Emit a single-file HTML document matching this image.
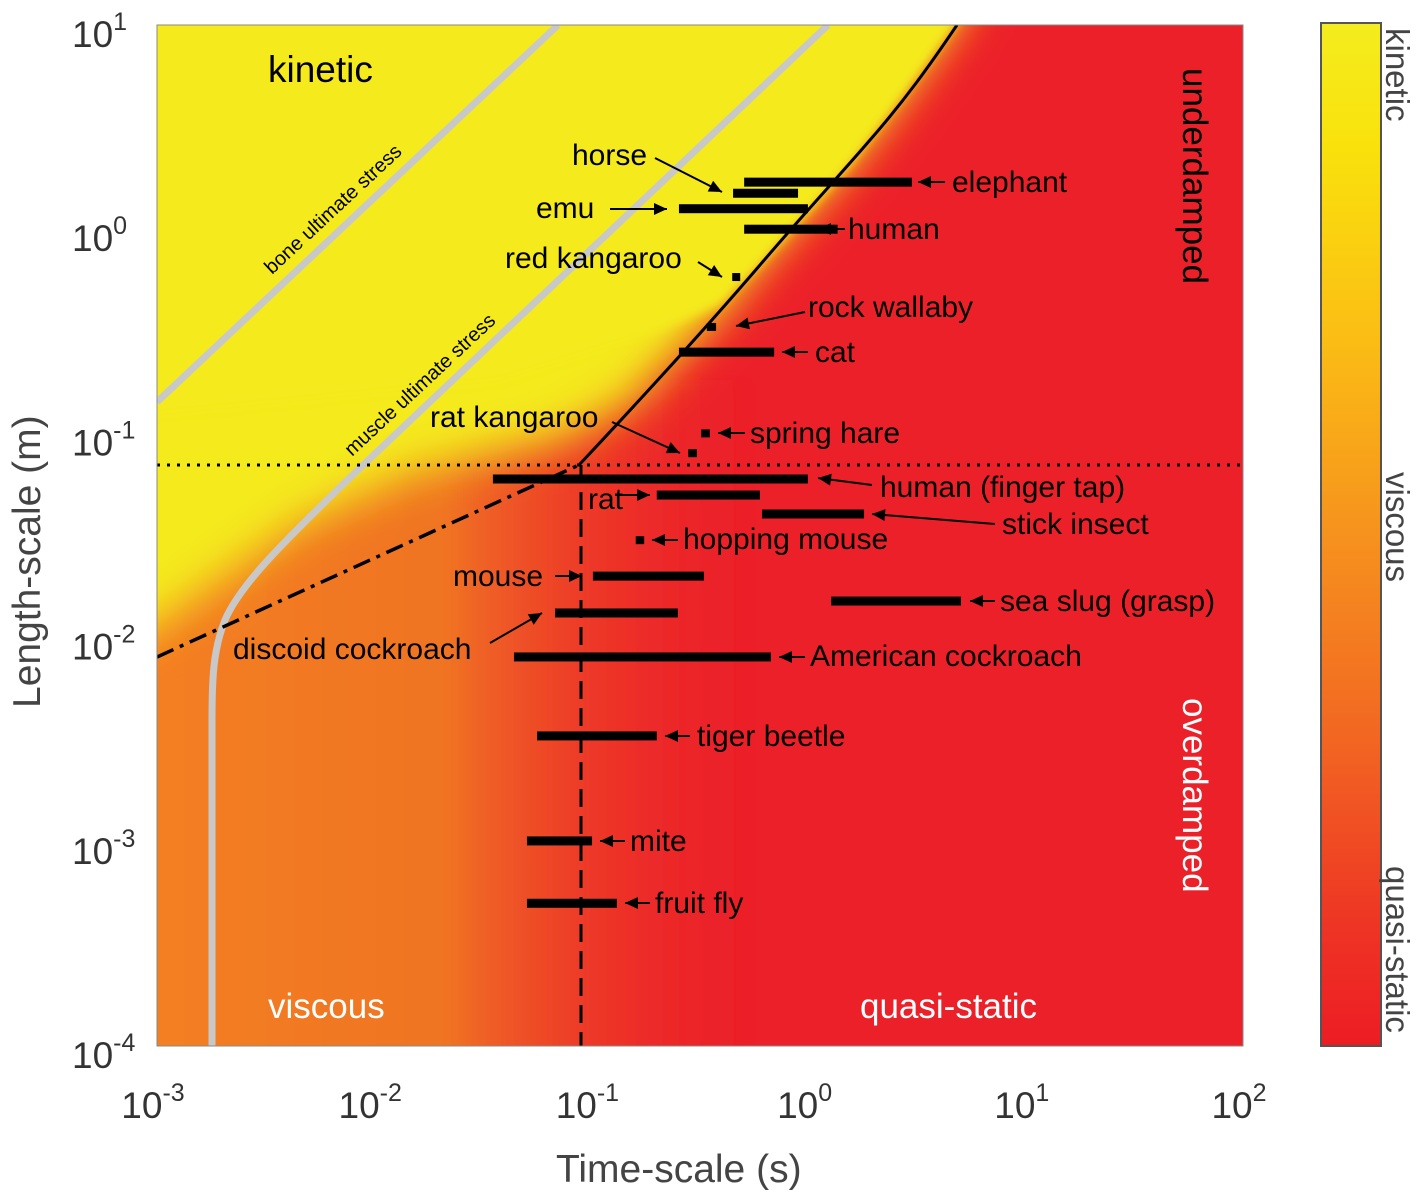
<!DOCTYPE html>
<html><head><meta charset="utf-8"><style>
html,body{margin:0;padding:0;background:#fff;}
svg{display:block;font-family:"Liberation Sans",sans-serif;}
</style></head><body>
<svg id="chart" width="1421" height="1194" viewBox="0 0 1421 1194" xmlns="http://www.w3.org/2000/svg">
<defs>
<clipPath id="plotclip"><rect x="157" y="25" width="1086" height="1021"/></clipPath>
<filter id="blur" x="-20%" y="-20%" width="140%" height="140%"><feGaussianBlur stdDeviation="22"/></filter>
<filter id="blur2" x="-20%" y="-20%" width="140%" height="140%"><feGaussianBlur stdDeviation="5"/></filter>
<linearGradient id="orangeGrad" x1="0" x2="1" y1="0" y2="0">
<stop offset="0" stop-color="#f58220"/><stop offset="0.55" stop-color="#f07424"/><stop offset="1" stop-color="#ec2228" stop-opacity="0"/>
</linearGradient>
<linearGradient id="cbGrad" x1="0" x2="0" y1="0" y2="1">
<stop offset="0" stop-color="#f4ec1e"/><stop offset="0.12" stop-color="#f9e20c"/><stop offset="0.3" stop-color="#fbbf14"/><stop offset="0.5" stop-color="#f6921e"/><stop offset="0.7" stop-color="#f26622"/><stop offset="0.88" stop-color="#ee3524"/><stop offset="1" stop-color="#ed1c24"/>
</linearGradient>
</defs>
<g id="plot" clip-path="url(#plotclip)">
<rect x="157" y="25" width="1086" height="1021" fill="#ec2029"/>
<rect x="60" y="380" width="700" height="700" fill="url(#orangeGrad)" filter="url(#blur2)"/>
<polygon fill="#f4ea1a" filter="url(#blur)" points="100,-40 990,-40 955,25 900,100 850,165 810,210 760,265 720,315 680,355 630,405 560,440 420,470 300,525 157,625 100,660"/>
<polygon fill="#f4ea1a" filter="url(#blur2)" points="100,-40 990,-40 955,25 900,100 850,165 810,210 760,265 720,305 660,330 500,380 100,420"/>
</g>
<g id="lines" clip-path="url(#plotclip)">
<line x1="157" y1="402" x2="558" y2="25" stroke="#c8c8c8" stroke-width="7"/>
<path d="M828,25 L360,468 C280,545 240,585 225,620 C213,650 212,680 212,720 L212,1046" fill="none" stroke="#c8c8c8" stroke-width="7"/>
<text x="0" y="0" transform="translate(272,275) rotate(-43)" font-size="20" fill="#000">bone ultimate stress</text>
<text x="0" y="0" transform="translate(352,457) rotate(-43)" font-size="20" fill="#000">muscle ultimate stress</text>
<path d="M579,465 C640,400 700,335 760,265 C800,218 840,175 870,140 C905,100 930,65 957,25" fill="none" stroke="#000" stroke-width="3"/>
<line x1="157" y1="657" x2="579" y2="465" stroke="#000" stroke-width="3.5" stroke-dasharray="18,7,4,7"/>
<line x1="157" y1="465" x2="1243" y2="465" stroke="#000" stroke-width="3" stroke-dasharray="3,7"/>
<line x1="581" y1="465" x2="581" y2="1046" stroke="#000" stroke-width="3" stroke-dasharray="18,9"/>
</g>
<rect x="157" y="25" width="1086" height="1021" fill="none" stroke="#888" stroke-width="1"/>
<g id="bars"></g>
<g id="labels" font-size="30" fill="#000"></g>
<g id="regions">
<text x="268" y="82" font-size="37">kinetic</text>
<text x="268" y="1018" font-size="35" fill="#fff">viscous</text>
<text x="860" y="1018" font-size="35" fill="#fff">quasi-static</text>
<text transform="translate(1183,68) rotate(90)" font-size="35" fill="#000">underdamped</text>
<text transform="translate(1183,698) rotate(90)" font-size="35" fill="#fff">overdamped</text>
</g>
<g id="axes" fill="#333"></g>
<text transform="translate(40,708) rotate(-90)" font-size="39" fill="#444">Length-scale (m)</text>
<text x="556" y="1182" font-size="39" fill="#444">Time-scale (s)</text>
<g>
<rect x="1321" y="23" width="60" height="1023" fill="url(#cbGrad)" stroke="#555" stroke-width="2"/>
<text transform="translate(1386,28) rotate(90)" font-size="33" fill="#444">kinetic</text>
<text transform="translate(1386,472) rotate(90)" font-size="33" fill="#444">viscous</text>
<text transform="translate(1386,866) rotate(90)" font-size="33" fill="#444">quasi-static</text>
</g>
<script>
const names=["elephant","horse","emu","human","red kangaroo","rock wallaby","cat","spring hare","rat kangaroo","human (finger tap)","rat","stick insect","hopping mouse","mouse","sea slug (grasp)","discoid cockroach","American cockroach","tiger beetle","mite","fruit fly"];
const tMin=[0.505,0.449,0.253,0.505,0.449,0.34,0.253,0.32,0.279,0.0352,0.200,0.610,0.160,0.1016,1.27,0.068,0.044,0.0562,0.0505,0.0505];
const tMax=[2.99,0.894,0.993,1.36,0.48,0.375,0.694,0.351,0.306,0.993,0.597,1.80,0.175,0.33,5.03,0.25,0.671,0.2,0.1007,0.131];
const lengths=[1.70,1.50,1.26,1.0,0.583,0.332,0.25,0.1,0.080,0.0598,0.0499,0.0403,0.030,0.020,0.0151,0.0132,0.00804,0.0033,0.00101,0.0005];
const xTicks=[-3,-2,-1,0,1,2];
const yTicks=[1,0,-1,-2,-3,-4];
const X0=157,X1=1243,Y0=25,Y1=1046;
const xs=t=>X0+(Math.log10(t)+3)/5*(X1-X0);
const ys=l=>Y0+(1-Math.log10(l))/5*(Y1-Y0);
const NS="http://www.w3.org/2000/svg";
function mk(tag,attrs,parent){const e=document.createElementNS(NS,tag);for(const k in attrs)e.setAttribute(k,attrs[k]);parent.appendChild(e);return e;}
const bars=document.getElementById('bars');
names.forEach((n,i)=>{
  let x1=xs(tMin[i]),x2=xs(tMax[i]);const y=ys(lengths[i]);
  const h=(x2-x1<12)?8:9;
  if(x2-x1<8){const c=(x1+x2)/2;x1=c-4;x2=c+4;}
  const r=mk('rect',{x:x1,y:y-h/2,width:x2-x1,height:h,fill:'#000'},bars);
  
  
});
const ann=[["horse",572,165,655,158,722,192],["emu",536,218,610,209,667,209],["red kangaroo",505,268,698,262,722,277],["elephant",952,192,945,182,918,182],["human",848,239,845,229,818,229],["rock wallaby",808,317,805,312,736,326],["cat",815,362,808,352,782,352],["rat kangaroo",430,427,612,422,680,453],["spring hare",750,443,745,433,718,433],["human (finger tap)",880,497,872,485,818,478],["rat",588,509,615,495,650,495],["stick insect",1002,534,995,524,872,514],["hopping mouse",683,549,678,540,652,540],["mouse",453,586,555,576,582,576],["sea slug (grasp)",1000,611,995,601,970,601],["discoid cockroach",233,659,490,643,542,613],["American cockroach",810,666,805,657,779,657],["tiger beetle",697,746,690,736,665,736],["mite",630,851,625,841,600,841],["fruit fly",655,913,650,903,625,903]];
const lab=document.getElementById('labels');
ann.forEach(a=>{
  const t=mk('text',{x:a[1],y:a[2]},lab);t.textContent=a[0];
  
  
  const [x1,y1,x2,y2]=a.slice(3);
  mk('line',{x1:x1,y1:y1,x2:x2,y2:y2,stroke:'#000','stroke-width':2},lab);
  const ang=Math.atan2(y2-y1,x2-x1),L=13,W=6;
  const bx=x2-L*Math.cos(ang),by=y2-L*Math.sin(ang);
  const p=`${x2},${y2} ${bx-W*Math.sin(ang)},${by+W*Math.cos(ang)} ${bx+W*Math.sin(ang)},${by-W*Math.cos(ang)}`;
  mk('polygon',{points:p,fill:'#000'},lab);
});
const ax=document.getElementById('axes');
function tickLabel(x,y,v,anchor){
  const t=mk('text',{x:x,y:y,'text-anchor':anchor,'font-size':37},ax);
  
  
  const b=mk('tspan',{},t);b.textContent='10';
  const s=mk('tspan',{dy:-17,'font-size':25},t);s.textContent=String(v);
  return t;
}
xTicks.forEach(v=>{
  const x=xs(Math.pow(10,v));
  tickLabel(x-4,1118,v,'middle');
});
yTicks.forEach(v=>{
  const y=ys(Math.pow(10,v));
  tickLabel(72,y+22,v,'start');
});
</script>
</svg>
</body></html>
